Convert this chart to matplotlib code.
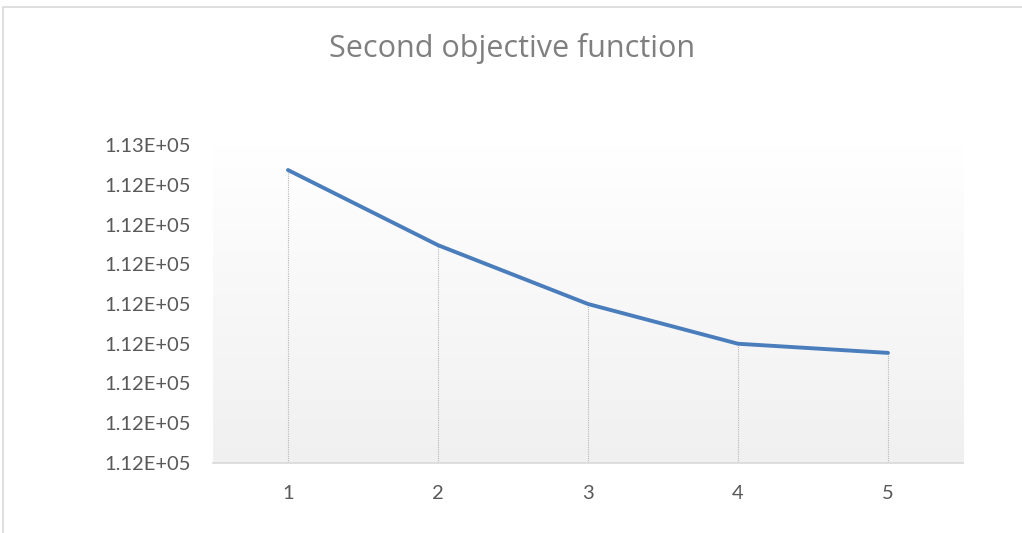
import numpy as np
import matplotlib
matplotlib.use("Agg")
import matplotlib.pyplot as plt
from matplotlib.patches import Rectangle

# data
iterations = [1, 2, 3, 4, 5]
objective = [112493.7, 112474.8, 112460.0, 112450.0, 112447.7]
y_ticks = [112420, 112430, 112440, 112450, 112460, 112470, 112480, 112490, 112500]
y_tick_labels = ['1.12E+05'] * 8 + ['1.13E+05']

plt.rcParams['font.family'] = ['Lato', 'DejaVu Sans']

fig = plt.figure(figsize=(10.22, 5.33), dpi=100)
fig.patch.set_facecolor('white')

# outer chart border (only left and top visible in the reference)
fig.patches.append(Rectangle((3 / 1022, -0.05), 1.2, 1 - 7 / 533 + 0.05,
                             transform=fig.transFigure, fill=False,
                             edgecolor='#d9d9d9', linewidth=1.2))

ax = fig.add_axes([213 / 1022, 1 - 463 / 533, 750 / 1022, 318 / 533])

# vertical gradient background, white on top to light gray at the bottom
grad = np.linspace(1.0, 0.0, 256).reshape(-1, 1)
ax.imshow(grad, cmap=matplotlib.colors.LinearSegmentedColormap.from_list(
    'bg', ['#f0f0f0', '#ffffff']), aspect='auto', extent=[0, 1, 0, 1],
    transform=ax.transAxes, zorder=0, vmin=0, vmax=1)

# drop lines
ax.vlines(iterations, y_ticks[0], objective, colors='#b8b8b8',
          linestyles=(0, (1, 1)), linewidth=0.8, zorder=1)

ax.plot(iterations, objective, color='#4a7dbb', linewidth=2.8,
        solid_capstyle='round', solid_joinstyle='round', zorder=2)

ax.set_xlim(0.5, 5.5)
ax.set_ylim(y_ticks[0], y_ticks[-1])
ax.set_xticks(iterations)
ax.set_xticklabels([str(i) for i in iterations])
ax.set_yticks(y_ticks)
ax.set_yticklabels(y_tick_labels)
ax.tick_params(axis='both', length=0, labelsize=14.5, colors='#595959')
ax.tick_params(axis='y', pad=16)
ax.tick_params(axis='x', pad=16)

for side in ['top', 'right', 'left']:
    ax.spines[side].set_visible(False)
ax.spines['bottom'].set_color('#d9d9d9')
ax.spines['bottom'].set_linewidth(1.2)

fig.text(512 / 1022, 1 - 48 / 533, 'Second objective function',
         ha='center', va='center', fontsize=22, color='#7f7f7f',
         family=['Open Sans', 'DejaVu Sans'])

fig.savefig('out.png', dpi=100)
